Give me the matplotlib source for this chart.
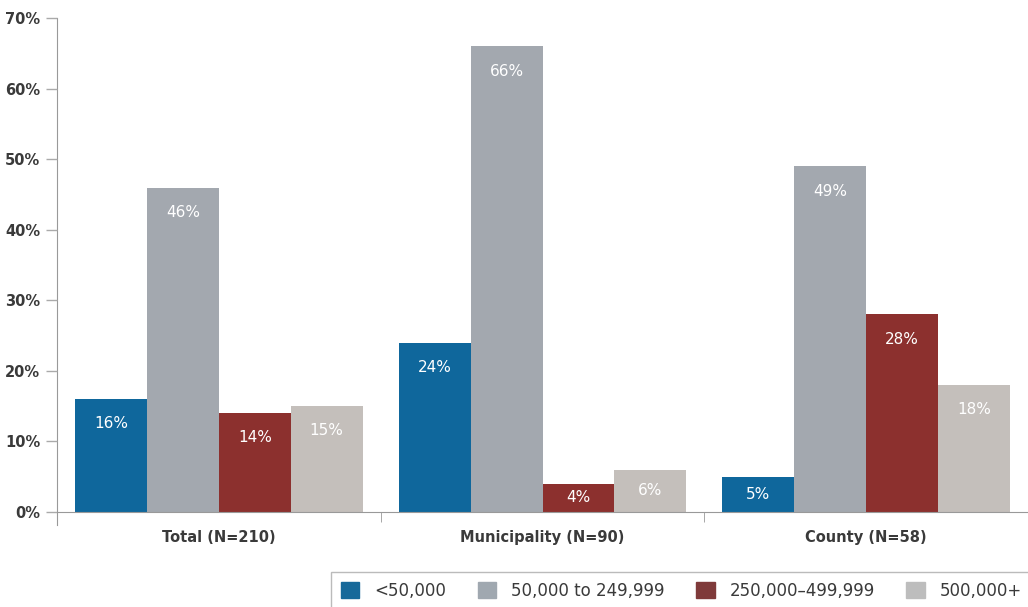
import numpy as np
import matplotlib.pyplot as plt

groups = ["Total (N=210)", "Municipality (N=90)", "County (N=58)"]
series = ["<50,000", "50,000 to 249,999", "250,000\u2013499,999", "500,000+"]
under_50k = [16, 24, 5]
from_50k = [46, 66, 49]
from_250k = [14, 4, 28]
over_500k = [15, 6, 18]
values = [under_50k, from_50k, from_250k, over_500k]

colors = ["#0f679c", "#a3a8af", "#8c302e", "#c4bfbb"]
legend_colors = ["#17699a", "#a0a8b0", "#7f3a3a", "#bdbdbd"]
text_color = "#3a3a3a"

fig = plt.figure(figsize=(10.28, 6.07), dpi=100)
ax = fig.add_axes([0.0555, 0.1565, 0.9445, 0.8135])

x = np.arange(len(groups))
width = 0.222
for i, (vals, c) in enumerate(zip(values, colors)):
    pos = x + (i - 1.5) * width
    ax.bar(pos, vals, width, color=c, edgecolor="none", zorder=2)
    for px, v in zip(pos, vals):
        ty = max(v - 3.5, v / 2)
        ax.text(px, ty, f"{v}%", ha="center", va="center", color="white",
                fontsize=11, zorder=3)

ax.set_xlim(-0.5, 2.5)
ax.set_ylim(0, 70)
ax.set_yticks(range(0, 71, 10))
ax.set_yticklabels([f"{t}%" for t in range(0, 71, 10)], fontsize=10.5,
                   color=text_color, fontweight="bold")
ax.set_xticks(x)
ax.set_xticklabels(groups, fontsize=10.5, color=text_color, fontweight="bold")
ax.tick_params(axis="x", length=0, pad=13)
ax.set_xticks([0.5, 1.5], minor=True)
ax.tick_params(axis="x", which="minor", length=7, color="#999999")
ax.tick_params(axis="y", length=8, color="#aaaaaa", width=1, pad=4)

for s in ["top", "right"]:
    ax.spines[s].set_visible(False)
ax.spines["left"].set_color("#999999")
ax.spines["left"].set_bounds(-1.8, 70)
ax.spines["bottom"].set_color("#999999")
ax.spines["left"].set_zorder(1)

handles = [plt.Rectangle((0, 0), 1, 1, color=c) for c in legend_colors]
leg = fig.legend(handles, series, loc="lower right", bbox_to_anchor=(1.012, -0.018),
                 ncol=4, frameon=True, fancybox=False, fontsize=12,
                 handlelength=1.1, handleheight=1.1, columnspacing=1.9,
                 handletextpad=0.9, borderpad=0.6)
leg.get_frame().set_edgecolor("#aaaaaa")
leg.get_frame().set_linewidth(1)
for t in leg.get_texts():
    t.set_color(text_color)

fig.savefig("out.png", dpi=100)
